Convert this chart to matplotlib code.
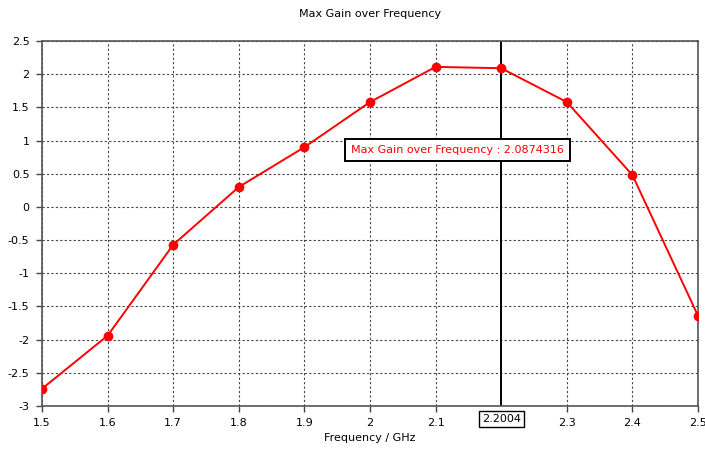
import numpy as np
from matplotlib import pyplot as plt

# data
freq = [1.5, 1.6, 1.7, 1.8, 1.9, 2.0, 2.1, 2.2, 2.3, 2.4, 2.5]
gain = [-2.74, -1.94, -0.57, 0.30, 0.90, 1.58, 2.11, 2.09, 1.58, 0.48, -1.64]
marker_freq = 2.2004
marker_value = 2.0874316
xticks = [1.5, 1.6, 1.7, 1.8, 1.9, 2.0, 2.1, 2.3, 2.4, 2.5]
xtick_labels = ['1.5', '1.6', '1.7', '1.8', '1.9', '2', '2.1', '2.3', '2.4', '2.5']
yticks = [-3, -2.5, -2, -1.5, -1, -0.5, 0, 0.5, 1, 1.5, 2, 2.5]
ytick_labels = ['-3', '-2.5', '-2', '-1.5', '-1', '-0.5', '0', '0.5', '1', '1.5', '2', '2.5']

plt.rcParams['font.family'] = ['DejaVu Sans']
fs = 8

fig = plt.figure(figsize=(7.05, 4.49), dpi=100)
ax = fig.add_axes([42 / 705, 43 / 449, 656 / 705, 365 / 449])

ax.plot(freq, gain, '-o', color='#ff0000', linewidth=1.4, markersize=6, zorder=3)
ax.axvline(marker_freq, color='black', linewidth=1.4, zorder=2)

ax.set_xlim(1.5, 2.5)
ax.set_ylim(-3, 2.5)
ax.set_xticks(xticks)
ax.set_xticklabels(xtick_labels, fontsize=fs)
ax.set_yticks(yticks)
ax.set_yticklabels(ytick_labels, fontsize=fs)
ax.tick_params(direction='out', length=4, width=1, color='#444444', pad=5)
ax.grid(True, color='#444444', linestyle=(0, (2, 2)), linewidth=0.8)

for s in ax.spines.values():
    s.set_color('#555555')
    s.set_linewidth(1.2)

ax.set_title('Max Gain over Frequency', fontsize=fs, pad=17)
ax.set_xlabel('Frequency / GHz', fontsize=fs, labelpad=3)

# marker label at bottom of the axis
ax.text(marker_freq, -3.12, '2.2004', fontsize=fs, ha='center', va='top',
        bbox=dict(boxstyle='square,pad=0.25', fc='white', ec='black', lw=1.0))

ax.text(2.133, 0.86, 'Max Gain over Frequency : %.7f' % marker_value,
        color='#ff0000', fontsize=fs, ha='center', va='center', zorder=5,
        bbox=dict(boxstyle='square,pad=0.55', fc='white', ec='black', lw=1.4))

fig.savefig('out.png', dpi=100)
